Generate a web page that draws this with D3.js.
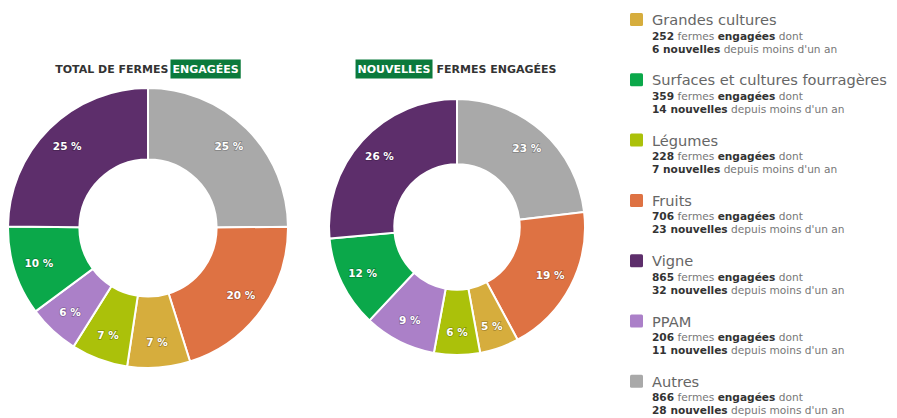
<!DOCTYPE html>
<html>
<head>
<meta charset="utf-8">
<script src="https://cdn.jsdelivr.net/npm/d3@7"></script>
<style>
  body { margin: 0; background: #fff; }
  svg { display: block; font-family: "DejaVu Sans", sans-serif; }
</style>
</head>
<body>
<svg id="chart" width="897" height="418"></svg>
<script>
/* DATA */
const categories = ["Grandes cultures", "Surfaces et cultures fourragères", "Légumes", "Fruits", "Vigne", "PPAM", "Autres"];
const totalFermes = [252, 359, 228, 706, 865, 206, 866];
const nouvellesFermes = [6, 14, 7, 23, 32, 11, 28];
const colors = ["#d6ad3d", "#0ba84a", "#abc10a", "#de7243", "#5d2e6b", "#ab80c8", "#a9a9a9"];
// order of slices clockwise from the top
const sliceOrder = ["Autres", "Fruits", "Grandes cultures", "Légumes", "PPAM", "Surfaces et cultures fourragères", "Vigne"];

const svg = d3.select("#chart");
const color = d3.scaleOrdinal().domain(categories).range(colors);
const titleY = 73;

function donut(values, cx, cy, outer, titleParts) {
  const rows = sliceOrder.map(c => ({ cat: c, value: values[categories.indexOf(c)] }));
  const total = d3.sum(rows, d => d.value);
  const pie = d3.pie().sort(null).value(d => d.value);
  const arc = d3.arc().innerRadius(outer * 0.49).outerRadius(outer);
  const labelArc = d3.arc().innerRadius(outer * 0.82).outerRadius(outer * 0.82);

  const g = svg.append("g").attr("transform", `translate(${cx},${cy})`);
  g.selectAll("path")
    .data(pie(rows))
    .join("path")
    .attr("d", arc)
    .attr("fill", d => color(d.data.cat))
    .attr("stroke", "#fff")
    .attr("stroke-width", 2);

  g.selectAll("text")
    .data(pie(rows))
    .join("text")
    .attr("transform", d => `translate(${labelArc.centroid(d)})`)
    .attr("text-anchor", "middle")
    .attr("dy", "0.35em")
    .attr("font-size", 10.5)
    .attr("font-weight", "bold")
    .attr("fill", "#fff")
    .attr("stroke", "rgba(0,0,0,0.25)")
    .attr("stroke-width", 1.5)
    .attr("paint-order", "stroke")
    .text(d => Math.round(d.data.value / total * 100) + " %");

  // title, one part on a green box
  const tg = svg.append("g");
  let x = 0;
  titleParts.forEach(p => {
    const t = tg.append("text")
      .attr("x", x).attr("y", 0)
      .attr("font-size", 11)
      .attr("font-weight", "bold")
      .attr("fill", p.hl ? "#fff" : "#333")
      .text(p.text);
    const w = t.node().getComputedTextLength();
    if (p.hl) {
      tg.insert("rect", "text")
        .attr("x", x - 2).attr("y", -13.5)
        .attr("width", w + 4).attr("height", 19)
        .attr("fill", "#0b7a3c");
    }
    x += w + (p.hl ? 6 : 4);
  });
  const tw = x - 4;
  tg.attr("transform", `translate(${cx - tw / 2},${titleY})`);
}

donut(totalFermes, 148, 228, 140, [{ text: "TOTAL DE FERMES" }, { text: "ENGAGÉES", hl: true }]);
donut(nouvellesFermes, 457, 227, 128, [{ text: "NOUVELLES", hl: true }, { text: "FERMES ENGAGÉES" }]);

/* LEGEND */
const legend = svg.append("g").attr("transform", "translate(630,13)");
const item = legend.selectAll("g")
  .data(categories)
  .join("g")
  .attr("transform", (d, i) => `translate(0,${i * 60.3})`);

item.append("rect")
  .attr("width", 13).attr("height", 13).attr("rx", 1.5)
  .attr("fill", d => color(d));

item.append("text")
  .attr("x", 22).attr("y", 12)
  .attr("font-size", 14.6)
  .attr("fill", "#666")
  .text(d => d);

const line2 = item.append("text")
  .attr("x", 22).attr("y", 26.5)
  .attr("font-size", 10.6)
  .attr("fill", "#777");
line2.append("tspan").attr("font-weight", "bold").attr("fill", "#333").text((d, i) => totalFermes[i]);
line2.append("tspan").text(" fermes ");
line2.append("tspan").attr("font-weight", "bold").attr("fill", "#333").text("engagées");
line2.append("tspan").text(" dont");

const line3 = item.append("text")
  .attr("x", 22).attr("y", 39.5)
  .attr("font-size", 10.6)
  .attr("fill", "#777");
line3.append("tspan").attr("font-weight", "bold").attr("fill", "#333").text((d, i) => nouvellesFermes[i] + " nouvelles");
line3.append("tspan").text(" depuis moins d'un an");
</script>
</body>
</html>
